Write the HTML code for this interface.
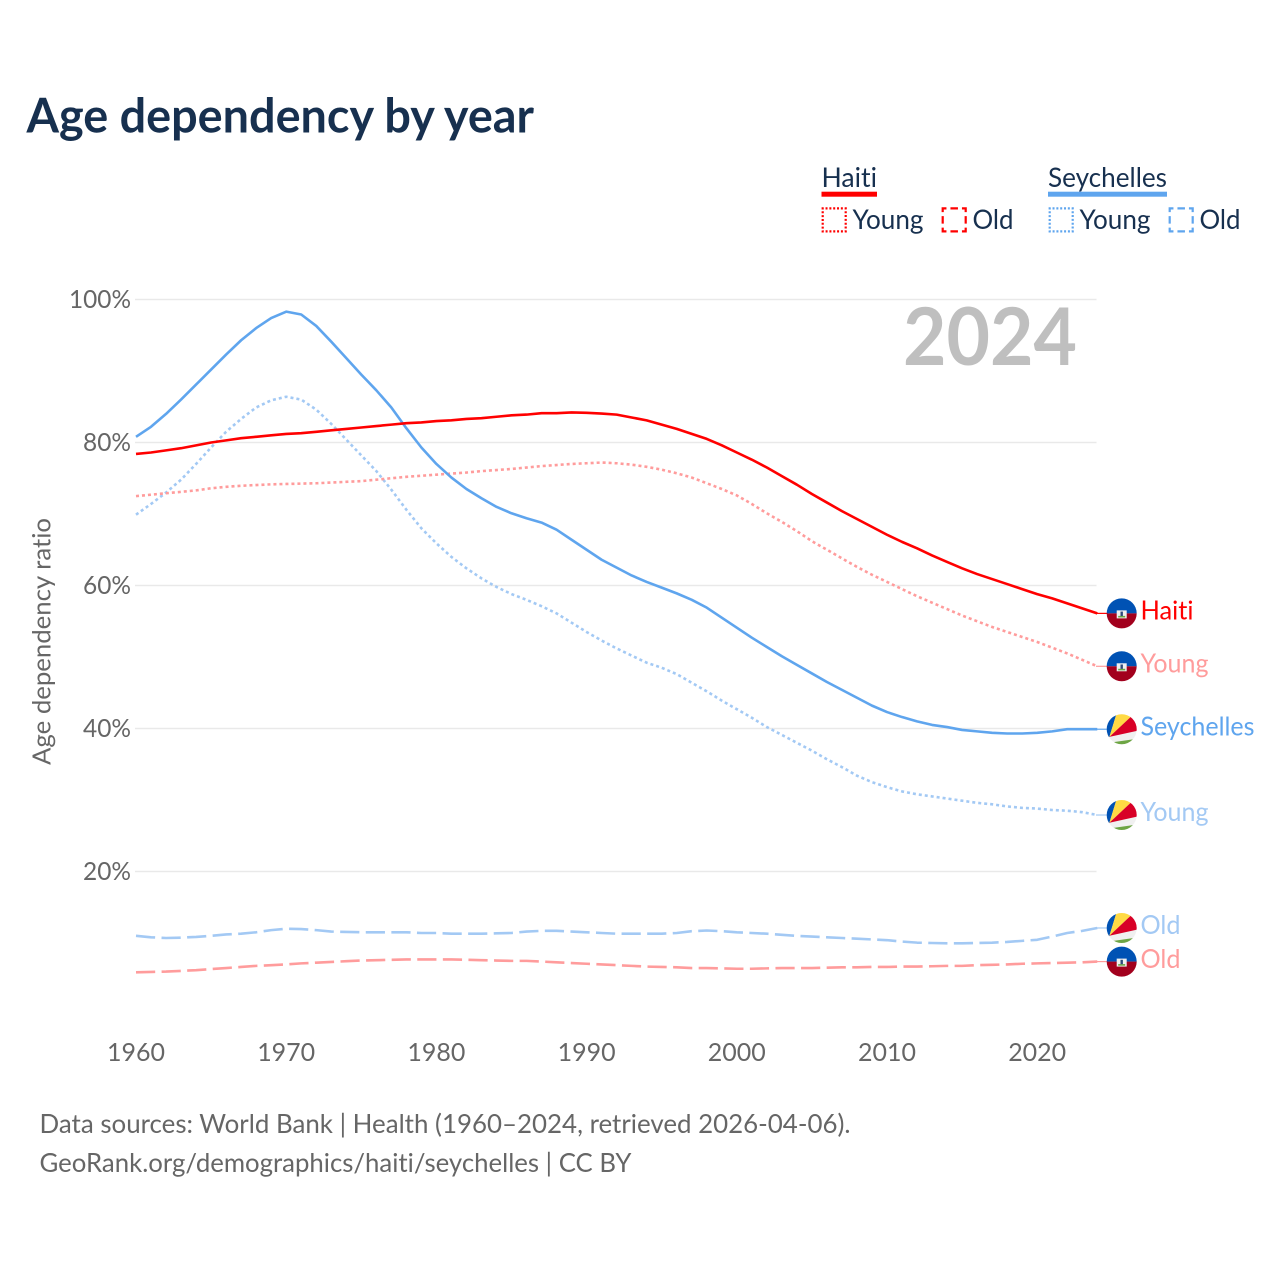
<!DOCTYPE html>
<html lang="en">
<head>
<meta charset="utf-8">
<title>Age dependency by year</title>
<style>
html,body{margin:0;padding:0;background:#fff;width:1280px;height:1280px;overflow:hidden}
svg{display:block}
text{font-family:"Lato","Carlito","Liberation Sans",sans-serif;font-variant-ligatures:none;font-feature-settings:"liga" 0}
</style>
</head>
<body>
<svg id="chart" xmlns="http://www.w3.org/2000/svg" width="1280" height="1280" viewBox="0 0 1280 1280">
  <rect width="1280" height="1280" fill="#fff"/>
  <text x="26.5" y="132.5" font-size="48" font-weight="700" fill="#17304f" textLength="507.5" lengthAdjust="spacingAndGlyphs">Age dependency by year</text>

  <g>
    <text x="821.5" y="187" font-size="27" fill="#17304f" textLength="55.5" lengthAdjust="spacingAndGlyphs">Haiti</text>
    <rect x="821.5" y="191.7" width="55.5" height="5" fill="#ff0000"/>
    <rect x="822.7" y="208.4" width="23" height="23" fill="none" stroke="#ff0000" stroke-width="2.2" stroke-dasharray="2 1.83" stroke-dashoffset="1"/>
    <text x="852.5" y="229" font-size="27" fill="#17304f" textLength="71" lengthAdjust="spacingAndGlyphs">Young</text>
    <rect x="942.7" y="208.4" width="23" height="23" fill="none" stroke="#ff0000" stroke-width="2.2" stroke-dasharray="7.5 4" stroke-dashoffset="3.75"/>
    <text x="972.5" y="229" font-size="27" fill="#17304f" textLength="41" lengthAdjust="spacingAndGlyphs">Old</text>

    <text x="1048" y="187" font-size="27" fill="#17304f" textLength="119" lengthAdjust="spacingAndGlyphs">Seychelles</text>
    <rect x="1048" y="191.7" width="119" height="5" fill="#5fa5ee"/>
    <rect x="1049.7" y="208.4" width="23" height="23" fill="none" stroke="#5fa5ee" stroke-width="2.2" stroke-dasharray="2 1.83" stroke-dashoffset="1"/>
    <text x="1079.5" y="229" font-size="27" fill="#17304f" textLength="71" lengthAdjust="spacingAndGlyphs">Young</text>
    <rect x="1169.7" y="208.4" width="23" height="23" fill="none" stroke="#5fa5ee" stroke-width="2.2" stroke-dasharray="7.5 4" stroke-dashoffset="3.75"/>
    <text x="1199.5" y="229" font-size="27" fill="#17304f" textLength="41" lengthAdjust="spacingAndGlyphs">Old</text>
  </g>

  <text x="903" y="365" font-size="80" font-weight="700" fill="#bfbfbf" textLength="174" lengthAdjust="spacingAndGlyphs">2024</text>
  <text transform="translate(50.5 765) rotate(-90)" x="0" y="0" font-size="25" fill="#666666" textLength="247" lengthAdjust="spacingAndGlyphs">Age dependency ratio</text>

  <g id="grid"></g>
  <g id="yticks"></g>
  <g id="xticks"></g>
  <g id="lines"></g>
  <g id="ends"></g>

  <text x="39.5" y="1133" font-size="26" fill="#666666" textLength="811" lengthAdjust="spacingAndGlyphs">Data sources: World Bank | Health (1960–2024, retrieved 2026-04-06).</text>
  <text x="39.5" y="1172" font-size="26" fill="#666666" textLength="592" lengthAdjust="spacingAndGlyphs">GeoRank.org/demographics/haiti/seychelles | CC BY</text>
</svg>

<script>
const startYear = 1960;
const xTickLabels = [1960, 1970, 1980, 1990, 2000, 2010, 2020];
const yTickValues = [20, 40, 60, 80, 100];

const haitiTotal = [
  78.4, 78.6, 78.9, 79.2, 79.6, 80.0, 80.3, 80.6, 80.8, 81.0,
  81.2, 81.3, 81.5, 81.7, 81.9, 82.1, 82.3, 82.5, 82.7, 82.8,
  83.0, 83.1, 83.3, 83.4, 83.6, 83.8, 83.9, 84.1, 84.1, 84.2,
  84.15, 84.05, 83.9, 83.5, 83.1, 82.5, 81.9, 81.2, 80.5, 79.6,
  78.6, 77.6, 76.5, 75.3, 74.1, 72.8, 71.6, 70.4, 69.3, 68.2,
  67.1, 66.1, 65.2, 64.2, 63.3, 62.4, 61.6, 60.9, 60.2, 59.5,
  58.8, 58.2, 57.5, 56.8, 56.1
];
const haitiYoung = [
  72.5, 72.7, 72.9, 73.1, 73.3, 73.6, 73.8, 73.95, 74.05, 74.15,
  74.2, 74.25, 74.3, 74.4, 74.5, 74.6, 74.8, 75.0, 75.2, 75.35,
  75.5, 75.65, 75.8, 76.0, 76.15, 76.3, 76.5, 76.7, 76.85, 77.0,
  77.1, 77.2, 77.1, 76.9, 76.6, 76.2, 75.7, 75.1, 74.3, 73.5,
  72.6, 71.4, 70.1, 68.9, 67.6, 66.2, 65.0, 63.8, 62.6, 61.5,
  60.5, 59.5, 58.5, 57.6, 56.7, 55.8, 55.0, 54.2, 53.5, 52.8,
  52.1, 51.3, 50.5, 49.6, 48.7
];
const haitiOld = [
  5.9, 5.95, 6.0, 6.1, 6.2, 6.35, 6.5, 6.65, 6.8, 6.9,
  7.0, 7.15, 7.25, 7.35, 7.45, 7.55, 7.6, 7.65, 7.7, 7.7,
  7.7, 7.7, 7.65, 7.6, 7.55, 7.5, 7.5, 7.4, 7.3, 7.2,
  7.1, 7.0, 6.9, 6.8, 6.7, 6.65, 6.6, 6.5, 6.5, 6.45,
  6.4, 6.4, 6.45, 6.5, 6.5, 6.5, 6.55, 6.6, 6.6, 6.65,
  6.65, 6.7, 6.7, 6.75, 6.8, 6.8, 6.9, 6.95, 7.0, 7.1,
  7.15, 7.2, 7.25, 7.3, 7.4
];
const seychellesTotal = [
  80.8, 82.2, 84.0, 86.0, 88.1, 90.2, 92.3, 94.3, 96.0, 97.4,
  98.3, 97.9, 96.3, 94.1, 91.8, 89.5, 87.3, 84.9, 82.0, 79.3,
  77.0, 75.1, 73.5, 72.2, 71.0, 70.1, 69.4, 68.8, 67.8, 66.4,
  65.0, 63.6, 62.5, 61.4, 60.5, 59.7, 58.9, 58.0, 56.9, 55.5,
  54.1, 52.7, 51.4, 50.1, 48.9, 47.7, 46.5, 45.4, 44.3, 43.2,
  42.3, 41.6, 41.0, 40.5, 40.2, 39.8, 39.6, 39.4, 39.3, 39.3,
  39.4, 39.6, 39.9, 39.9, 39.9
];
const seychellesYoung = [
  69.9, 71.4, 73.0, 74.8, 77.0, 79.3, 81.5, 83.3, 84.9, 85.9,
  86.4, 86.0, 84.6, 82.6, 80.4, 78.2, 76.0, 73.4, 70.6, 68.0,
  65.9, 64.0, 62.4, 61.0, 59.8, 58.8, 58.0, 57.1, 56.1, 54.8,
  53.5, 52.3, 51.2, 50.2, 49.2, 48.5, 47.6, 46.4, 45.2, 43.9,
  42.7, 41.5, 40.2, 39.1, 38.0, 36.9, 35.7, 34.6, 33.4, 32.5,
  31.8, 31.2, 30.8, 30.5, 30.2, 29.9, 29.6, 29.4, 29.1, 28.9,
  28.8, 28.6, 28.5, 28.3, 27.9
];
const seychellesOld = [
  11.0, 10.8, 10.7, 10.75, 10.85, 11.0, 11.2, 11.3, 11.5, 11.8,
  12.0, 11.95, 11.8, 11.6, 11.55, 11.5, 11.5, 11.5, 11.5, 11.4,
  11.4, 11.3, 11.3, 11.3, 11.35, 11.4, 11.6, 11.7, 11.7, 11.6,
  11.5, 11.4, 11.3, 11.3, 11.3, 11.3, 11.4, 11.65, 11.75, 11.65,
  11.5, 11.4, 11.3, 11.15, 11.0, 10.9, 10.8, 10.7, 10.6, 10.5,
  10.4, 10.2, 10.05, 10.0, 9.95, 9.95, 10.0, 10.05, 10.15, 10.3,
  10.45, 10.9, 11.4, 11.7, 12.1
];

const NS = 'http://www.w3.org/2000/svg';
const xScale = year => 136 + (year - startYear) * 15.02;
const yScale = value => 1014.5 - value * 7.15;

function make(tag, attrs, parent) {
  const node = document.createElementNS(NS, tag);
  for (const key in attrs) node.setAttribute(key, attrs[key]);
  parent.appendChild(node);
  return node;
}

const gridG = document.getElementById('grid');
const yG = document.getElementById('yticks');
const xG = document.getElementById('xticks');
const linesG = document.getElementById('lines');
const endsG = document.getElementById('ends');

yTickValues.forEach(function (v) {
  const line = make('line', {x1: 135, x2: 1096.5, y1: yScale(v), y2: yScale(v), stroke: '#e9e9e9', 'stroke-width': 1.5}, gridG);
  
  
  const label = String(v) + '%';
  const w = label.length === 4 ? 62 : 48;
  const t = make('text', {x: 131 - w, y: yScale(v) + 8.5, 'font-size': 25, fill: '#666666', textLength: w, lengthAdjust: 'spacingAndGlyphs'}, yG);
  t.textContent = label;
  
  
});

xTickLabels.forEach(function (yr) {
  const t = make('text', {x: xScale(yr) - 29, y: 1061, 'font-size': 25, fill: '#666666', textLength: 58, lengthAdjust: 'spacingAndGlyphs'}, xG);
  t.textContent = String(yr);
  
  
});

function drawLine(values, color, dash, name) {
  const d = values.map(function (v, i) {
    return (i ? 'L' : 'M') + xScale(startYear + i).toFixed(2) + ' ' + yScale(v).toFixed(2);
  }).join('');
  const attrs = {d: d, fill: 'none', stroke: color, 'stroke-width': 2.6, 'stroke-linejoin': 'round'};
  if (dash) attrs['stroke-dasharray'] = dash;
  const path = make('path', attrs, linesG);
  
  
}

const DOT = '3 3';
const DASH = '19.2 6.4';
const PINK = '#ff9c9c';
const SKY = '#a3c9f4';
const RED = '#ff0000';
const BLUE = '#5fa5ee';

drawLine(seychellesOld, SKY, DASH, 'line-seychelles-old');
drawLine(haitiOld, PINK, DASH, 'line-haiti-old');
drawLine(seychellesYoung, SKY, DOT, 'line-seychelles-young');
drawLine(haitiYoung, PINK, DOT, 'line-haiti-young');
drawLine(seychellesTotal, BLUE, '', 'line-seychelles-total');
drawLine(haitiTotal, RED, '', 'line-haiti-total');

const defs = make('defs', {}, document.getElementById('chart'));
const clip = make('clipPath', {id: 'flag-clip'}, defs);
make('circle', {cx: 0, cy: 0, r: 15}, clip);

function haitiFlag(g) {
  make('rect', {x: -16, y: -16, width: 32, height: 16, fill: '#0052b4'}, g);
  make('rect', {x: -16, y: 0, width: 32, height: 16, fill: '#a2001d'}, g);
  make('rect', {x: -5, y: -3, width: 10, height: 8, fill: '#f0f0f0'}, g);
  make('rect', {x: -3.5, y: 2.5, width: 7, height: 1.6, fill: '#6da544'}, g);
  make('rect', {x: -1.2, y: -1.8, width: 2.4, height: 4.4, fill: '#2d4a7a'}, g);
}

function seychellesFlag(g) {
  make('rect', {x: -16, y: -16, width: 32, height: 32, fill: '#f0f0f0'}, g);
  make('polygon', {points: '-12.3,7.7 -5,-16 -16,-16 -16,9', fill: '#0052b4'}, g);
  make('polygon', {points: '-12.3,7.7 -5,-16 13,-16', fill: '#ffda44'}, g);
  make('polygon', {points: '-12.3,7.7 13,-16 16,-12 16,1.5', fill: '#d80027'}, g);
  make('polygon', {points: '-9,13 12,10 16,16 -9,16', fill: '#6da544'}, g);
}

function drawEnd(values, label, color, flagFn, labelWidth, leaderColor) {
  const cy = yScale(values[values.length - 1]);
  const leader = make('line', {x1: 1096, x2: 1108, y1: cy, y2: cy, stroke: leaderColor, 'stroke-width': 1.2}, endsG);
  
  
  const outer = make('g', {transform: 'translate(1121.7 ' + cy.toFixed(2) + ')'}, endsG);
  
  
  const inner = make('g', {'clip-path': 'url(#flag-clip)'}, outer);
  flagFn(inner);
  const t = make('text', {x: 1140.5, y: cy + 6.2, 'font-size': 26, fill: color, textLength: labelWidth, lengthAdjust: 'spacingAndGlyphs'}, endsG);
  t.textContent = label;
  
  
}

drawEnd(haitiTotal, 'Haiti', RED, haitiFlag, 53, RED);
drawEnd(haitiYoung, 'Young', PINK, haitiFlag, 68, PINK);
drawEnd(seychellesTotal, 'Seychelles', BLUE, seychellesFlag, 114, BLUE);
drawEnd(seychellesYoung, 'Young', SKY, seychellesFlag, 68, SKY);
drawEnd(seychellesOld, 'Old', SKY, seychellesFlag, 40, SKY);
drawEnd(haitiOld, 'Old', PINK, haitiFlag, 40, PINK);
</script>
</body>
</html>
